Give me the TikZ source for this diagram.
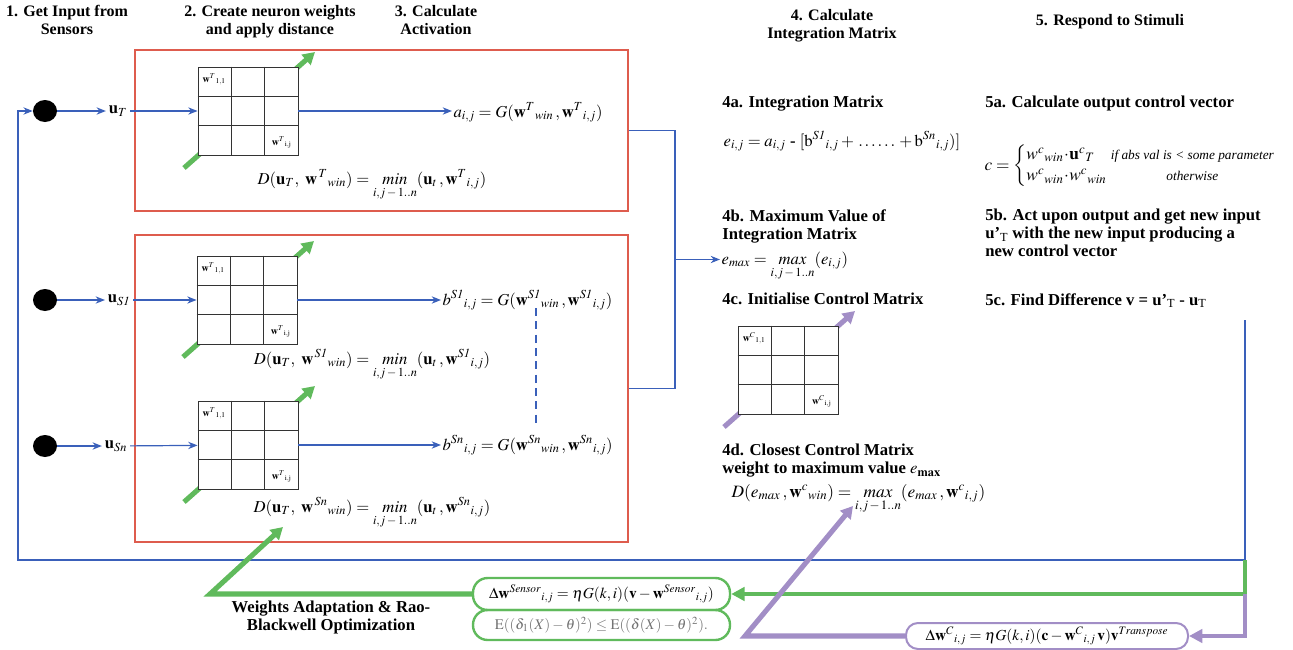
\documentclass[tikz,border=0pt]{standalone}
\usepackage{mathptmx}
\usepackage{fontspec}
\setmainfont{Liberation Serif}
\usetikzlibrary{arrows.meta,calc,shapes.geometric}
\definecolor{rbox}{RGB}{222,92,78}
\definecolor{bl}{RGB}{58,96,186}
\definecolor{gr}{RGB}{96,186,92}
\definecolor{pu}{RGB}{162,142,198}
\newcommand\wgrid[5]{%
  \draw[#5] (#2-64,#3+57) -- (#2+67,#3-59);
  \node[gridbox] (#1) at (#2,#3) {};
  \draw[gridline] ($(#1.north west)!1/3!(#1.north east)$) -- ($(#1.south west)!1/3!(#1.south east)$);
  \draw[gridline] ($(#1.north west)!2/3!(#1.north east)$) -- ($(#1.south west)!2/3!(#1.south east)$);
  \draw[gridline] ($(#1.north west)!1/3!(#1.south west)$) -- ($(#1.north east)!1/3!(#1.south east)$);
  \draw[gridline] ($(#1.north west)!2/3!(#1.south west)$) -- ($(#1.north east)!2/3!(#1.south east)$);
  \node[cell] (#1a) at ($(#1.north west)+(16.7,13)$) {$\mathbf{w}^{#4}{}_{1,1}$};
  \node[cell] (#1b) at ($(#1.south east)+(-16.7,-13)$) {$\mathbf{w}^{#4}{}_{\mathrm{i,j}}$};
}
\newcommand\myrng[1]{\mathop{#1}\limits_{\rule{0pt}{7pt}i,j\,-\,1..n}}
\begin{document}
\begin{tikzpicture}[x=0.75pt,y=-0.75pt,
  hdr/.style={font=\bfseries\fontsize{12}{13.5}\selectfont, align=center, anchor=north, inner sep=0pt},
  sec/.style={font=\bfseries\fontsize{12.5}{13.5}\selectfont, align=left, anchor=north west, inner sep=0pt},
  fml/.style={font=\fontsize{12.5}{14}\selectfont, inner sep=1pt},
  cell/.style={font=\fontsize{7.5}{8}\selectfont, inner sep=0pt},
  gridbox/.style={draw=black!80, fill=white, line width=0.7pt, minimum width=75pt, minimum height=66pt, inner sep=0pt},
  gridline/.style={draw=black!80, line width=0.7pt},
  redbox/.style={draw=rbox, line width=1.5pt, minimum width=369.75pt, inner sep=0pt},
  blu/.style={draw=bl, line width=0.9pt},
  barr/.style={blu, -{Stealth[length=7pt,width=5.5pt]}},
  garr/.style={draw=gr, line width=3.8pt, -{Triangle[length=9pt,width=10pt]}},
  parr/.style={draw=pu, line width=3.8pt, -{Triangle[length=9pt,width=10pt]}},
  gline/.style={draw=gr, line width=3pt},
  pline/.style={draw=pu, line width=3pt},
  dot/.style={ellipse, fill=black, minimum width=18pt, minimum height=16.5pt, inner sep=0pt},
  gbox/.style={draw=gr, line width=1.8pt, rounded corners=11pt, minimum width=192.75pt, inner sep=0pt},
  pbox/.style={draw=pu, line width=1.5pt, rounded corners=9pt, minimum width=211.5pt, minimum height=19.5pt, inner sep=0pt}
]
\useasboundingbox (0,0) rectangle (1293,650);

% headers
\node[hdr] (h1) at (67,5) {1. Get Input from\\Sensors};
\node[hdr] (h2) at (270,5) {2. Create neuron weights\\and apply distance};
\node[hdr] (h3) at (436,5) {3. Calculate\\Activation};
\node[hdr] (h4) at (832,9) {4. Calculate\\Integration Matrix};
\node[hdr] (h5) at (1110,14) {5. Respond to Stimuli};

% red boxes
\node[redbox, minimum height=120.75pt] (box1) at (381.5,130.5) {};
\node[redbox, minimum height=230.25pt] (box2) at (381.5,388.5) {};

% dots and input labels
\node[dot] (d1) at (45,111) {};
\node[dot] (d2) at (45,300) {};
\node[dot] (d3) at (45,446) {};
\node[fml, inner sep=2pt] (uT) at (118,111) {$\mathbf{u}_{T}$};
\node[fml, inner sep=2pt] (uS1) at (119,300) {$\mathbf{u}_{\mathit{S1}}$};
\node[fml, inner sep=2pt] (uSn) at (116,446) {$\mathbf{u}_{Sn}$};

% grids
\wgrid{g1}{248}{111}{T}{garr}
\wgrid{g2}{247}{300}{T}{garr}
\wgrid{g3}{248}{445}{T}{garr}
\wgrid{cg}{788}{370}{C}{parr}

% activation formulas
\node[fml, anchor=base west] (f1) at (452,117) {$a_{i,j} = G(\mathbf{w}^{T}{}_{win}\,, \mathbf{w}^{T}{}_{i,j})$};
\node[fml, anchor=base west] (f2) at (441,305) {$b^{\mathit{S1}}{}_{i,j} = G(\mathbf{w}^{\mathit{S1}}{}_{win}\,, \mathbf{w}^{\mathit{S1}}{}_{i,j})$};
\node[fml, anchor=base west] (f3) at (441,450) {$b^{Sn}{}_{i,j} = G(\mathbf{w}^{Sn}{}_{win}\,, \mathbf{w}^{Sn}{}_{i,j})$};

\node[fml, anchor=base] (D1) at (372,184) {$D(\mathbf{u}_{T},\ \mathbf{w}^{\,T}{}_{win}) = \myrng{min}(\mathbf{u}_{t}\,, \mathbf{w}^{T}{}_{i,j})$};
\node[fml, anchor=base] (D2) at (372,364) {$D(\mathbf{u}_{T},\ \mathbf{w}^{\,\mathit{S1}}{}_{win}) = \myrng{min}(\mathbf{u}_{t}\,, \mathbf{w}^{\mathit{S1}}{}_{i,j})$};
\node[fml, anchor=base] (D3) at (372,512) {$D(\mathbf{u}_{T},\ \mathbf{w}^{\,Sn}{}_{win}) = \myrng{min}(\mathbf{u}_{t}\,, \mathbf{w}^{Sn}{}_{i,j})$};

% blue connectors
\draw[barr] (d1) -- (uT);
\draw[barr] (d2) -- (uS1);
\draw[barr] (d3) -- (uSn);
\draw[barr] (uT) -- (g1);
\draw[barr] (uS1) -- (g2);
\draw[barr] (uSn) -- (g3);
\draw[barr] (g1.east) -- (g1.east -| f1.west);
\draw[barr] (g2.east) -- (g2.east -| f2.west);
\draw[barr] (g3.east) -- (g3.east -| f3.west);
\coordinate (ds1) at (536,308);
\coordinate (ds2) at (536,424);
\draw[blu, dash pattern=on 6pt off 4pt] (ds1) -- (ds2);

% right side
\node[sec] (s4a) at (722,96) {4a. Integration Matrix};
\node[fml, anchor=base west] (fe) at (722,146) {$e_{i,j} = a_{i,j}$ \textbf{-} $[\mathrm{b}^{\mathit{S1}}{}_{i,j} + \,\ldots\ldots\, + \mathrm{b}^{Sn}{}_{i,j})]$};
\node[sec] (s5a) at (985,96) {5a. Calculate output control vector};
\node[fml, anchor=west, font=\fontsize{13}{15}\selectfont] (fc) at (983,166) {$c = \left\{\begin{array}{@{}l@{\ }c@{}} w^{c}{}_{win}\!\cdot\!\mathbf{u}^{c}{}_{T} & \mbox{\fontsize{10}{11}\selectfont\itshape if abs val is < some parameter}\\[1pt] w^{c}{}_{win}\!\cdot\! w^{c}{}_{win} & \mbox{\fontsize{10}{11}\selectfont\itshape otherwise}\end{array}\right.$};
\node[sec] (s4b) at (722,209) {4b. Maximum Value of\\Integration Matrix};
\node[fml, anchor=base west] (femax) at (720,264) {$e_{max} = \myrng{max}(e_{i,j})$};
\node[sec] (s5b) at (985,209) {5b. Act upon output and get new input\\u’\textsubscript{\mdseries T} with the new input producing a\\new control vector};
\node[sec] (s4c) at (722,293) {4c. Initialise Control Matrix};
\node[sec] (s5c) at (985,293) {5c. Find Difference v = u’\textsubscript{\mdseries T} - u\textsubscript{\mdseries T}};
\node[sec] (s4d) at (722,444) {4d. Closest Control Matrix\\weight to maximum value $e_{\mathbf{max}}$};
\node[fml, anchor=base west, font=\fontsize{13}{15}\selectfont] (fD4) at (730,497) {$D(e_{max}\,, \mathbf{w}^{c}{}_{win}) = \myrng{max}(e_{max}\,, \mathbf{w}^{c}{}_{i,j})$};

% bracket from boxes to e_max
\draw[blu] (box1.east) -- ++(46,0) coordinate (bk1) -- (bk1 |- box2.east) coordinate (bk2) -- (box2.east);
\path ($(bk1)!0.5!(bk2)$) coordinate (bkm);
\draw[barr] (bkm) -- (bkm -| femax.west);

% bottom boxes
\node[gbox, minimum height=24pt, font=\fontsize{11.5}{13}\selectfont] (gb1) at (601.5,594) {$\Delta\mathbf{w}^{Sensor}{}_{i,j} = \eta G(k,i)(\mathbf{v} - \mathbf{w}^{Sensor}{}_{i,j})$};
\node[gbox, minimum height=22.5pt, font=\fontsize{11}{13}\selectfont, text=black!55] (gb2) at (601.5,625) {$\mathrm{E}((\delta_1(X)-\theta)^2) \le \mathrm{E}((\delta(X)-\theta)^2).$};
\node[pbox, font=\fontsize{11.5}{13}\selectfont] (pb) at (1047,636) {$\Delta\mathbf{w}^{C}{}_{i,j} = \eta G(k,i)(\mathbf{c} - \mathbf{w}^{C}{}_{i,j}\,\mathbf{v})\mathbf{v}^{Transpose}$};
\node[sec, anchor=north, align=center] (wa) at (331,601) {Weights Adaptation \& Rao-\\Blackwell Optimization};

% feedback
\coordinate (fb) at (1245,320);
\coordinate (gsp) at (1245,560);
\coordinate (psp) at (1245,594);
\draw[barr] (fb) |- (18,560) |- (d1.west);
\draw[gline, -{Triangle[length=10pt,width=10pt]}] (gsp) |- (gb1.east);
\draw[pline, -{Triangle[length=10pt,width=10pt]}] (psp) |- (pb.east);

% adaptation arrows
\coordinate (gc) at (210,594);
\coordinate (gt) at (283,527);
\draw[garr] (gb1.west) -- (gc) -- (gt);
\coordinate (pc) at (745,636);
\coordinate (pt) at (853,506);
\draw[parr] (pb.west) -- (pc) -- (pt);
\end{tikzpicture}
\end{document}
